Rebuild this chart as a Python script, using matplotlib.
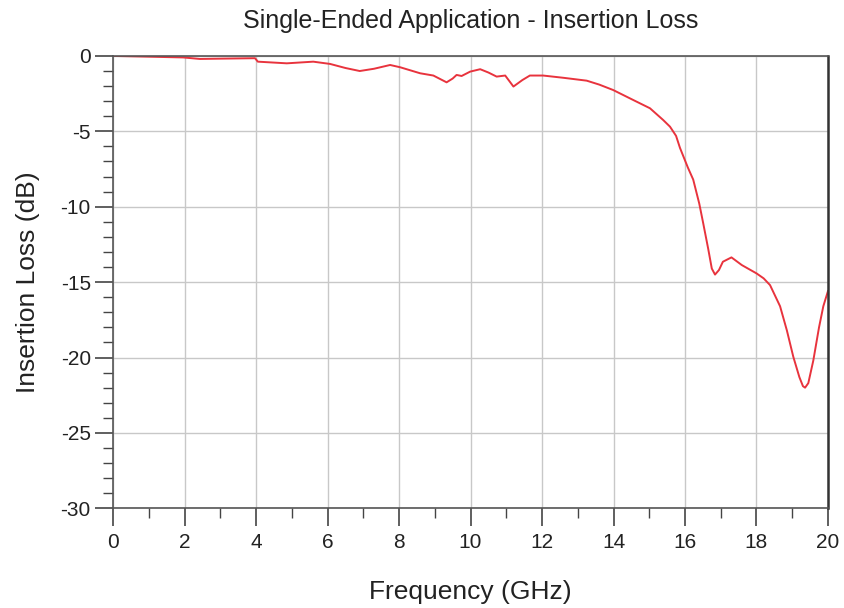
import matplotlib.pyplot as plt
from matplotlib.ticker import MultipleLocator

plt.rcParams['font.family'] = ['Liberation Sans', 'DejaVu Sans']
plt.rcParams['axes.unicode_minus'] = False

# insertion loss
freq = [0.0, 1.0, 1.96, 2.43, 3.0, 3.97, 4.05, 4.86, 5.6, 6.07, 6.5, 6.9, 7.3,
        7.75, 8.03, 8.59, 8.96, 9.33, 9.5, 9.61, 9.75, 9.99, 10.27, 10.5,
        10.73, 10.97, 11.2, 11.45, 11.66, 12.03, 12.6, 13.25, 13.6, 13.99,
        14.55, 15.02, 15.39, 15.58, 15.75, 15.86, 16.08, 16.23, 16.4, 16.51,
        16.65, 16.75, 16.84, 16.95, 17.06, 17.3, 17.59, 18.0, 18.2, 18.38,
        18.66, 18.85, 19.03, 19.2, 19.3, 19.36, 19.45, 19.59, 19.75, 19.87,
        20.0]
loss = [0.0, -0.05, -0.1, -0.2, -0.18, -0.15, -0.38, -0.49, -0.38, -0.53,
        -0.8, -1.0, -0.85, -0.6, -0.75, -1.15, -1.3, -1.75, -1.5, -1.26,
        -1.33, -1.04, -0.88, -1.1, -1.37, -1.3, -2.03, -1.6, -1.3, -1.3,
        -1.45, -1.64, -1.9, -2.26, -2.92, -3.47, -4.25, -4.69, -5.3, -6.1,
        -7.4, -8.2, -9.8, -11.1, -12.8, -14.1, -14.5, -14.2, -13.65, -13.36,
        -13.87, -14.42, -14.75, -15.2, -16.6, -18.2, -19.95, -21.3, -21.9,
        -22.0, -21.7, -20.2, -18.0, -16.6, -15.6]

x_ticks = list(range(0, 21, 2))
y_ticks = list(range(-30, 1, 5))

fig = plt.figure(figsize=(8.44, 6.08), dpi=100)
ax = fig.add_axes([0.134, 0.164, 0.847, 0.744])

ax.plot(freq, loss, color='#e8333d', lw=1.4)

ax.set_xlim(0, 20)
ax.set_ylim(-30, 0)
ax.set_xticks(x_ticks)
ax.set_yticks(y_ticks)
ax.xaxis.set_minor_locator(MultipleLocator(1))
ax.yaxis.set_minor_locator(MultipleLocator(1))
ax.grid(True, which='major', color='#c8c8c8', lw=1.0)
ax.tick_params(which='major', direction='out', length=13, width=1.2,
               color='#444444', labelsize=15, labelcolor='#222222', pad=3)
ax.tick_params(axis='x', which='major', pad=5)
ax.tick_params(which='minor', direction='out', length=7, width=1.0,
               color='#444444')

for side in ['left', 'bottom', 'top']:
    ax.spines[side].set_color('#555555')
    ax.spines[side].set_linewidth(1.2)
ax.spines['right'].set_color('#333333')
ax.spines['right'].set_linewidth(1.8)

ax.set_title('Single-Ended Application - Insertion Loss', fontsize=18,
             pad=20, color='#222222')
ax.set_xlabel('Frequency (GHz)', fontsize=19, labelpad=20, color='#222222')
ax.set_ylabel('Insertion Loss (dB)', fontsize=19, labelpad=15, color='#222222')

fig.savefig('out.png', dpi=100)
